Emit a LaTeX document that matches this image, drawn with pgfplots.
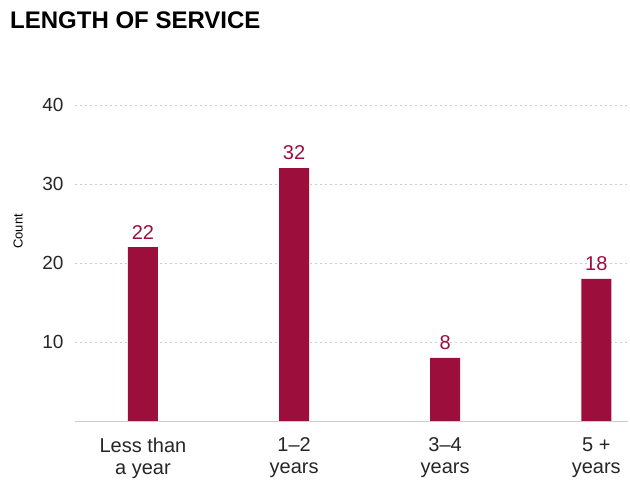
\documentclass[border=0pt]{standalone}
\usepackage{pgfplots}
\pgfplotsset{compat=1.18}
\usepackage{fontspec}
\setmainfont{Liberation Sans}
\definecolor{barred}{HTML}{9C0E3C}
\definecolor{gridgray}{HTML}{CCCCCC}
\begin{document}
\begin{tikzpicture}
\begin{axis}[
  scale only axis,
  width=553bp, height=316bp,
  xmin=-0.45, xmax=3.21,
  ymin=0, ymax=40,
  axis lines=left,
  axis line style={draw=none},
  ytick={10,20,30,40},
  xtick={0,1,2,3},
  xticklabels={{Less than\\a year},{1--2\\years},{3--4\\years},{5 +\\years}},
  xticklabel style={align=center, font=\fontsize{20bp}{22.5bp}\selectfont, text=black!85, yshift=-13bp},
  yticklabel style={font=\fontsize{19bp}{21bp}\selectfont, text=black!85, xshift=-8bp},
  /pgf/number format/assume math mode=true,
  ymajorgrids,
  grid style={gridgray, line width=0.6pt, dash pattern=on 2bp off 3bp},
  major tick length=0pt,
  ylabel={Count},
  ylabel style={font=\fontsize{13bp}{15bp}\selectfont, at={(rel axis cs:-0.103,0.6)}, anchor=center},
  nodes near coords,
  nodes near coords style={font=\fontsize{20bp}{22bp}\selectfont, text=barred, anchor=south, yshift=4.5bp},
  clip=false,
]
\addplot[ybar, bar width=30bp, fill=barred, draw=none, bar shift=0pt] coordinates {(0,22) (1,32) (2,8) (3,18)};
\draw[gridgray, line width=0.8pt] (rel axis cs:0,0) -- (rel axis cs:1,0);
\end{axis}
\node[anchor=north west, inner sep=0pt, font=\fontsize{24bp}{26bp}\selectfont\bfseries] at (-65bp, 409bp) {LENGTH OF SERVICE};
\pgfresetboundingbox
\path (-75bp,-59bp) rectangle (555bp,421bp);
\end{tikzpicture}
\end{document}
